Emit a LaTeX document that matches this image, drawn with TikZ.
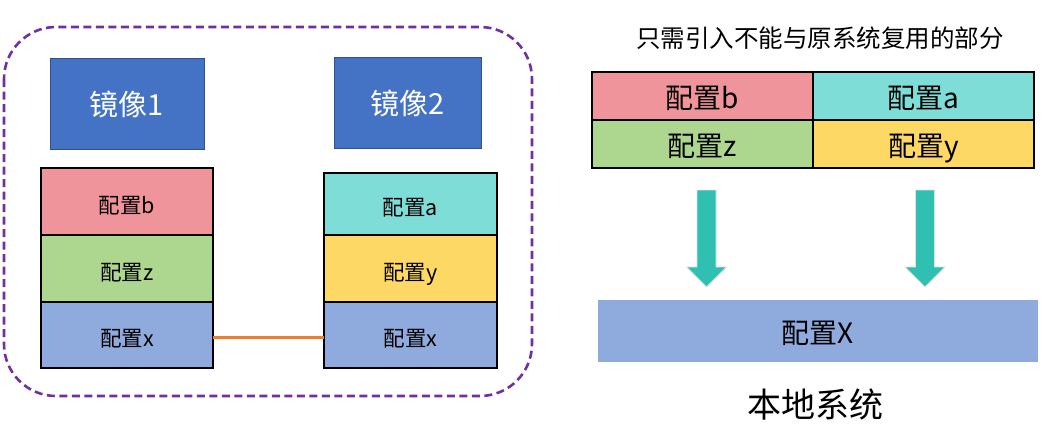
\documentclass[tikz,border=0pt]{standalone}
\usepackage{fontspec}
\setmainfont{Noto Sans CJK SC}
\definecolor{pinkc}{HTML}{EF949B}
\definecolor{greenc}{HTML}{ADD78F}
\definecolor{bluec}{HTML}{8FAADC}
\definecolor{tealc}{HTML}{7EDED7}
\definecolor{yellowc}{HTML}{FED865}
\definecolor{imgc}{HTML}{4472C4}
\definecolor{imgborder}{HTML}{2F528F}
\definecolor{purplec}{HTML}{7030A0}
\definecolor{orangec}{HTML}{ED7D31}
\definecolor{arrowc}{HTML}{30C0B2}
\tikzset{
  cellbox/.style={draw=black, line width=1.3pt, inner sep=0pt, outer sep=0pt, font=\fontsize{21.5}{21.5}\selectfont, text=black, text height=25pt, text depth=2pt},
  tcell/.style={draw=black, line width=1.3pt, inner sep=0pt, outer sep=0pt, minimum width=221pt, minimum height=48pt, font=\fontsize{28}{28}\selectfont, text=black, text height=28pt, text depth=2.8pt},
  imgbox/.style={fill=imgc, draw=imgborder, line width=1pt, inner sep=0pt, outer sep=0pt, minimum height=91pt, text=white, font=\fontsize{29}{29}\selectfont},
  fatarrow/.style={fill=arrowc, draw=black!12, line width=0.8pt}
}
\begin{document}
\begin{tikzpicture}[x=1pt,y=-1pt]
\useasboundingbox (0,0) rectangle (1054,434);
% dashed container
\draw[purplec, line width=2.6pt, dash pattern=on 8pt off 4.5pt, rounded corners=52pt] (4,27) rectangle (532,396);
% images
\node[imgbox, minimum width=154pt] (img1) at (127,104) {镜像1};
\node[imgbox, minimum width=147pt] (img2) at (408,103) {镜像2};
% left stack
\node[cellbox, fill=pinkc, minimum width=172pt, minimum height=67pt] (lb) at (127,201.5) {配置b};
\node[cellbox, fill=greenc, minimum width=172pt, minimum height=67pt] (lz) at (127,268.5) {配置z};
\node[cellbox, fill=bluec, minimum width=172pt, minimum height=66pt] (lx) at (127,335) {配置x};
% right stack
\node[cellbox, fill=tealc, minimum width=173pt, minimum height=62pt] (ra) at (410.5,204) {配置a};
\node[cellbox, fill=yellowc, minimum width=173pt, minimum height=67pt] (ry) at (410.5,268.5) {配置y};
\node[cellbox, fill=bluec, minimum width=173pt, minimum height=66pt] (rx) at (410.5,335) {配置x};
% connector
\draw[orangec, line width=3pt] (lx.east |- 0,337) -- (rx.west |- 0,337);
% title
\node[font=\fontsize{24.5}{24.5}\selectfont, text=black] (title) at (820,38) {只需引入不能与原系统复用的部分};
% table
\node[tcell, fill=pinkc] (tb) at (702.5,96) {配置b};
\node[tcell, fill=tealc] (ta) at (923.5,96) {配置a};
\node[tcell, fill=greenc] (tz) at (702.5,144) {配置z};
\node[tcell, fill=yellowc] (ty) at (923.5,144) {配置y};
% local system
\node[fill=bluec, inner sep=0pt, minimum width=440pt, minimum height=62pt, font=\fontsize{28}{28}\selectfont, text height=28.5pt, text depth=2.8pt] (X) at (818,331) {配置X};
\node[font=\fontsize{34}{34}\selectfont] (local) at (815,405) {本地系统};
% arrows
\coordinate (a1) at (706.5,190);
\coordinate (a2) at (925,190);
\foreach \c in {a1,a2}{
  \draw[fatarrow] (\c) ++(-9.5,0) -- ++(19,0) -- ++(0,77) -- ++(10.5,0) -- ++(-20,20) -- ++(-20,-20) -- ++(10.5,0) -- cycle;
}
\end{tikzpicture}
\end{document}
